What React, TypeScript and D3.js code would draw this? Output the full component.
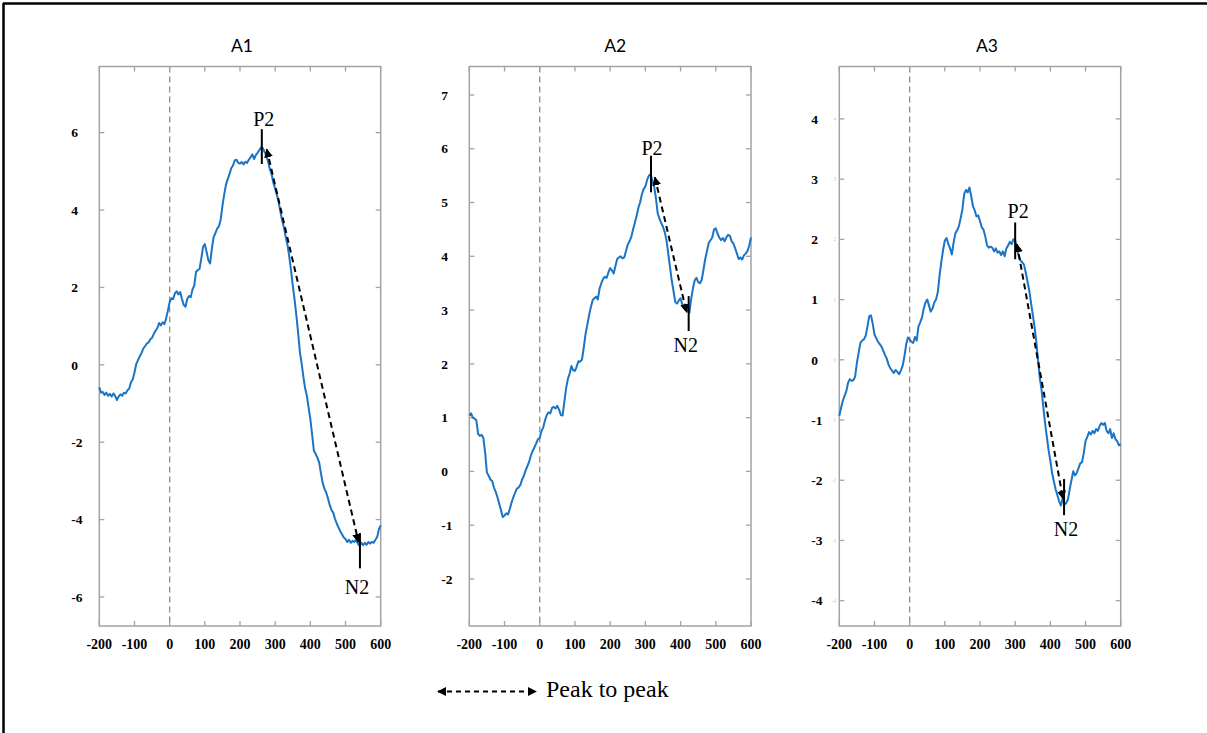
import { useEffect, useRef } from 'react';
import * as d3 from 'd3';

// sample grid (ms) shared by the three averaged waveforms
const times = d3.range(-200, 601, 5);
const xTicks = [-200, -100, 0, 100, 200, 300, 400, 500, 600];
const titles = ['A1', 'A2', 'A3'];

// amplitudes, one row per 100 ms
const a1Values = [
  -0.58, -0.72, -0.70, -0.78, -0.72, -0.80, -0.75, -0.82, -0.74, -0.80, -0.91, -0.82, -0.76, -0.80, -0.72, -0.74, -0.66, -0.62, -0.45, -0.38,
  -0.20, 0.02, 0.12, 0.22, 0.30, 0.42, 0.48, 0.55, 0.58, 0.66, 0.70, 0.80, 0.88, 0.95, 1.08, 1.02, 1.10, 1.05, 1.20, 1.40,
  1.62, 1.72, 1.70, 1.85, 1.90, 1.82, 1.88, 1.70, 1.55, 1.50, 1.70, 1.78, 1.75, 1.95, 2.05, 2.40, 2.45, 2.48, 2.75, 3.05,
  3.12, 2.92, 2.70, 2.62, 3.00, 3.30, 3.40, 3.52, 3.58, 3.75, 4.10, 4.40, 4.65, 4.80, 4.92, 5.08, 5.15, 5.28, 5.30, 5.22,
  5.20, 5.24, 5.18, 5.25, 5.22, 5.30, 5.36, 5.44, 5.32, 5.42, 5.48, 5.55, 5.62, 5.60, 5.50, 5.42, 5.25, 5.05, 4.92, 4.70,
  4.55, 4.38, 4.20, 3.95, 3.72, 3.55, 3.30, 3.10, 2.80, 2.45, 2.05, 1.70, 1.30, 0.85, 0.35, 0.05, -0.30, -0.60, -0.80, -1.10,
  -1.40, -1.80, -2.22, -2.30, -2.40, -2.52, -2.80, -3.05, -3.20, -3.30, -3.45, -3.62, -3.75, -3.82, -3.98, -4.10, -4.20, -4.30, -4.38, -4.46,
  -4.50, -4.58, -4.52, -4.60, -4.55, -4.58, -4.52, -4.62, -4.68, -4.60, -4.66, -4.60, -4.65, -4.58, -4.62, -4.58, -4.60, -4.52, -4.45, -4.25,
  -4.15,
];
const a2Values = [
  1.04, 1.08, 1.00, 0.98, 0.95, 0.70, 0.66, 0.68, 0.62, 0.35, -0.02, -0.08, -0.15, -0.18, -0.30, -0.38, -0.48, -0.60, -0.72, -0.85,
  -0.82, -0.78, -0.80, -0.70, -0.58, -0.48, -0.40, -0.32, -0.30, -0.25, -0.15, -0.08, 0.02, 0.10, 0.18, 0.30, 0.38, 0.45, 0.52, 0.60,
  0.62, 0.75, 0.82, 0.95, 1.05, 1.10, 1.08, 1.18, 1.20, 1.17, 1.22, 1.15, 1.05, 1.04, 1.30, 1.55, 1.72, 1.82, 1.96, 1.88,
  1.87, 1.95, 2.05, 2.04, 2.08, 2.30, 2.55, 2.72, 2.90, 3.05, 3.18, 3.22, 3.25, 3.20, 3.40, 3.50, 3.58, 3.62, 3.60, 3.70,
  3.78, 3.74, 3.68, 3.82, 3.95, 3.98, 4.00, 3.96, 3.98, 4.10, 4.22, 4.28, 4.36, 4.50, 4.62, 4.75, 4.90, 5.00, 5.15, 5.25,
  5.30, 5.42, 5.50, 5.53, 5.40, 5.30, 5.08, 4.80, 4.70, 4.62, 4.55, 4.45, 4.30, 4.05, 3.80, 3.55, 3.35, 3.15, 3.12, 3.18,
  3.22, 3.10, 3.08, 3.02, 2.98, 2.95, 3.20, 3.40, 3.55, 3.60, 3.52, 3.50, 3.56, 3.75, 3.95, 4.10, 4.25, 4.30, 4.35, 4.50,
  4.52, 4.42, 4.35, 4.30, 4.34, 4.28, 4.35, 4.40, 4.38, 4.28, 4.24, 4.15, 4.05, 3.95, 3.98, 3.94, 4.02, 4.05, 4.10, 4.20,
  4.35,
];
const a3Values = [
  -0.93, -0.80, -0.68, -0.60, -0.52, -0.38, -0.32, -0.35, -0.34, -0.28, -0.05, 0.12, 0.28, 0.32, 0.34, 0.40, 0.55, 0.72, 0.74, 0.60,
  0.42, 0.36, 0.30, 0.26, 0.22, 0.15, 0.08, 0.02, -0.08, -0.14, -0.18, -0.22, -0.17, -0.20, -0.24, -0.18, -0.10, 0.05, 0.25, 0.37,
  0.34, 0.30, 0.28, 0.38, 0.32, 0.55, 0.62, 0.70, 0.85, 0.95, 1.00, 0.90, 0.80, 0.85, 0.95, 1.00, 1.12, 1.40, 1.62, 1.82,
  1.98, 2.02, 1.92, 1.85, 1.75, 1.95, 2.10, 2.15, 2.22, 2.35, 2.50, 2.75, 2.82, 2.78, 2.86, 2.72, 2.55, 2.48, 2.38, 2.40,
  2.30, 2.20, 2.16, 2.05, 1.90, 1.86, 1.88, 1.86, 1.80, 1.85, 1.78, 1.80, 1.74, 1.80, 1.72, 1.85, 1.90, 1.96, 1.92, 2.00,
  1.98, 1.85, 1.72, 1.65, 1.62, 1.58, 1.45, 1.30, 1.15, 0.95, 0.75, 0.55, 0.30, 0.00, -0.30, -0.50, -0.78, -1.05, -1.28, -1.50,
  -1.68, -1.88, -2.02, -2.15, -2.25, -2.35, -2.42, -2.30, -2.40, -2.38, -2.32, -2.15, -2.00, -1.85, -1.92, -1.88, -1.80, -1.72, -1.70, -1.55,
  -1.35, -1.28, -1.20, -1.24, -1.18, -1.22, -1.15, -1.18, -1.10, -1.05, -1.08, -1.05, -1.18, -1.22, -1.15, -1.30, -1.22, -1.32, -1.35, -1.42,
  -1.40,
];
const series = [a1Values, a2Values, a3Values];

const a1YTicks = [-6, -4, -2, 0, 2, 4, 6];
const a2YTicks = [-2, -1, 0, 1, 2, 3, 4, 5, 6, 7];
const a3YTicks = [-4, -3, -2, -1, 0, 1, 2, 3, 4];
const yTicks = [a1YTicks, a2YTicks, a3YTicks];
const yDomains = [[-6.75, 7.71], [-2.875, 7.53], [-4.42, 4.87]];

// [time, low, high] of the vertical P2 / N2 markers
const p2Marks = [[262, 5.19, 6.09], [316, 5.19, 5.87], [300, 1.67, 2.28]];
const n2Marks = [[541, -5.26, -4.35], [423, 2.61, 3.26], [439, -2.58, -1.98]];
// peak-to-peak arrow ends [[t, v], [t, v]]
const arrowEnds = [
  [[276, 5.57], [537, -4.58]],
  [[327, 5.47], [417, 2.96]],
  [[305, 1.92], [436, -2.31]],
];

const W = 1207;
const H = 733;
const plotTop = 66.5;
const plotBottom = 626;
const panelX = [[99.3, 380.7], [469.3, 751], [839.3, 1120.7]];
const titleShift = [2, 5, 7];
const p2LabelOff = [[2, -3], [1, -1], [3, -4]];
const n2LabelOff = [[-3, 26], [-3, 21], [2, 21]];

const serif = '"Liberation Serif", "Times New Roman", serif';
const blue = '#1b74c5';
const frame = '#a3a3a3';

export default function App() {
  const ref = useRef<SVGSVGElement>(null);

  useEffect(() => {
    const svg = d3.select(ref.current);
    svg.selectAll('*').remove();

    const defs = svg.append('defs');
    defs.append('marker')
      .attr('id', 'head')
      .attr('viewBox', '0 0 10 10')
      .attr('refX', 9).attr('refY', 5)
      .attr('markerWidth', 4.5).attr('markerHeight', 4.5)
      .attr('orient', 'auto-start-reverse')
      .append('path').attr('d', 'M0,0 L10,5 L0,10 z').attr('fill', '#000');

    // outer frame (top and left edges only)
    svg.append('line').attr('x1', 3).attr('x2', W).attr('y1', 3.5).attr('y2', 3.5)
      .attr('stroke', '#000').attr('stroke-width', 2.5);
    svg.append('line').attr('x1', 3.5).attr('x2', 3.5).attr('y1', 3).attr('y2', H)
      .attr('stroke', '#000').attr('stroke-width', 2.5);

    series.forEach((vals, i) => {
      const [x0, x1] = panelX[i];
      const x = d3.scaleLinear().domain([-200, 600]).range([x0, x1]);
      const y = d3.scaleLinear().domain(yDomains[i]).range([plotBottom, plotTop]);
      const g = svg.append('g');

      g.append('text')
        .attr('x', (x0 + x1) / 2 + titleShift[i]).attr('y', 52)
        .attr('text-anchor', 'middle')
        .attr('font-family', 'Lato, "Noto Sans", sans-serif')
        .attr('font-size', 17.5)
        .text(titles[i]);

      // zero line
      g.append('line')
        .attr('x1', x(0)).attr('x2', x(0)).attr('y1', plotTop).attr('y2', plotBottom)
        .attr('stroke', '#8c8c8c').attr('stroke-width', 1.3).attr('stroke-dasharray', '6,4');

      // ticks inward on all four sides
      xTicks.forEach(t => {
        g.append('line').attr('x1', x(t)).attr('x2', x(t)).attr('y1', plotBottom).attr('y2', plotBottom - 5)
          .attr('stroke', frame).attr('stroke-width', 1.3);
        g.append('line').attr('x1', x(t)).attr('x2', x(t)).attr('y1', plotTop).attr('y2', plotTop + 5)
          .attr('stroke', frame).attr('stroke-width', 1.3);
        g.append('text')
          .attr('x', x(t)).attr('y', 649)
          .attr('text-anchor', 'middle')
          .attr('font-family', serif).attr('font-weight', 'bold').attr('font-size', 14)
          .text(t);
      });
      yTicks[i].forEach(v => {
        g.append('line').attr('x1', x0).attr('x2', x0 + 5).attr('y1', y(v)).attr('y2', y(v))
          .attr('stroke', frame).attr('stroke-width', 1.3);
        g.append('line').attr('x1', x1).attr('x2', x1 - 5).attr('y1', y(v)).attr('y2', y(v))
          .attr('stroke', frame).attr('stroke-width', 1.3);
        g.append('text')
          .attr('x', x0 - 28).attr('y', y(v)).attr('dy', '0.35em')
          .attr('font-family', serif).attr('font-weight', 'bold').attr('font-size', 13.5)
          .text(v);
        if (i === 2) {
          g.append('text')
            .attr('x', x0 - 3).attr('y', y(v)).attr('dy', '0.35em')
            .attr('text-anchor', 'end')
            .attr('font-family', serif).attr('font-size', 6).attr('fill', '#cfcfcf')
            .text(v);
        }
      });

      g.append('rect')
        .attr('x', x0).attr('y', plotTop).attr('width', x1 - x0).attr('height', plotBottom - plotTop)
        .attr('fill', 'none').attr('stroke', frame).attr('stroke-width', 1.5);

      const line = d3.line<number>().x((_, k) => x(times[k])).y(d => y(d));
      g.append('path')
        .attr('d', line(vals))
        .attr('fill', 'none').attr('stroke', blue).attr('stroke-width', 2)
        .attr('stroke-linejoin', 'round');

      // peak to peak arrow
      const [[ta, va], [tb, vb]] = arrowEnds[i];
      g.append('line')
        .attr('x1', x(ta)).attr('y1', y(va)).attr('x2', x(tb)).attr('y2', y(vb))
        .attr('stroke', '#000').attr('stroke-width', 2).attr('stroke-dasharray', '6,4')
        .attr('marker-start', 'url(#head)').attr('marker-end', 'url(#head)');

      // P2 / N2 markers
      const [pt, plo, phi] = p2Marks[i];
      g.append('line').attr('x1', x(pt)).attr('x2', x(pt)).attr('y1', y(plo)).attr('y2', y(phi))
        .attr('stroke', '#000').attr('stroke-width', 2);
      g.append('text')
        .attr('x', x(pt) + p2LabelOff[i][0]).attr('y', y(phi) + p2LabelOff[i][1])
        .attr('text-anchor', 'middle').attr('font-family', serif).attr('font-size', 20)
        .text('P2');
      const [nt, nlo, nhi] = n2Marks[i];
      g.append('line').attr('x1', x(nt)).attr('x2', x(nt)).attr('y1', y(nlo)).attr('y2', y(nhi))
        .attr('stroke', '#000').attr('stroke-width', 2);
      g.append('text')
        .attr('x', x(nt) + n2LabelOff[i][0]).attr('y', y(nlo) + n2LabelOff[i][1])
        .attr('text-anchor', 'middle').attr('font-family', serif).attr('font-size', 20)
        .text('N2');
    });

    // legend
    svg.append('line')
      .attr('x1', 438).attr('x2', 536).attr('y1', 691.5).attr('y2', 691.5)
      .attr('stroke', '#000').attr('stroke-width', 2).attr('stroke-dasharray', '5,4')
      .attr('marker-start', 'url(#head)').attr('marker-end', 'url(#head)');
    svg.append('text')
      .attr('x', 546).attr('y', 697)
      .attr('font-family', serif).attr('font-size', 24)
      .text('Peak to peak');
  }, []);

  return (
    <svg
      ref={ref}
      width={W}
      height={H}
      style={{ position: 'absolute', left: 0, top: 0, background: '#fff' }}
    />
  );
}
